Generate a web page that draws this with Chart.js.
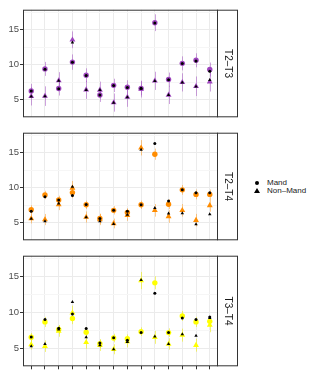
<!DOCTYPE html>
<html>
<head>
<meta charset="utf-8">
<script src="https://cdn.jsdelivr.net/npm/chart.js@4.4.0/dist/chart.umd.min.js"></script>
<style>
  body{margin:0;background:#fff;width:322px;height:376px;position:relative;overflow:hidden;font-family:"Liberation Sans",Arial,sans-serif}
  canvas{position:absolute;left:0}
  #legend{position:absolute;left:253px;top:179px;font-size:8px;color:#1a1a1a}
  .row{position:relative;height:8px;line-height:8px;padding-left:14px;color:#1a1a1a}
  .dot{position:absolute;left:2px;top:2px;width:4px;height:4px;border-radius:50%;background:#000}
  .tri{position:absolute;left:1px;top:1px;width:0;height:0;border-left:3px solid transparent;border-right:3px solid transparent;border-bottom:5px solid #000}
</style>
</head>
<body>
<canvas id="p1" width="240" height="121" style="top:3px"></canvas>
<canvas id="p2" width="240" height="121" style="top:126px"></canvas>
<canvas id="p3" width="240" height="124" style="top:249px"></canvas>
<div id="legend">
  <div class="row"><span class="dot"></span>Mand</div>
  <div class="row"><span class="tri"></span>Non–Mand</div>
</div>
<script>
const categories = [1,2,3,4,5,6,7,8,9,10,11,12,13,14]
const yTicks = [5, 10, 15]
const yMinor = [7.5, 12.5, 17.5]
const panels = ['T2–T3', 'T2–T4', 'T3–T4']

// T2–T3
const t23Mand = [6.24, 9.39, 6.58, 10.36, 8.47, 5.66, 7.03, 6.76, 6.6, 16.0, 7.86, 10.18, 10.62, 9.3]
const t23NonMand = [5.45, 5.49, 7.72, 13.55, 6.4, 6.37, 4.57, 5.36, 6.5, 7.68, 5.66, 7.46, 6.9, 7.55]
const t23MandErr = [1.0, 1.0, 1.0, 1.1, 1.0, 1.0, 0.95, 1.0, 1.0, 1.2, 1.0, 1.0, 1.0, 1.0]
const t23NonMandErr = [1.3, 1.4, 1.2, 1.2, 1.3, 1.2, 1.3, 1.4, 1.2, 1.3, 1.3, 1.3, 1.4, 1.4]
const t23MandObs = [6.22, 9.35, 6.55, 10.33, 8.45, 5.64, 7.0, 6.74, 6.62, 15.95, 7.84, 10.15, 10.5, 9.05]
const t23NonMandObs = [5.42, 5.47, 7.7, 13.15, 6.38, 6.35, 4.55, 5.34, 6.55, 7.66, 5.64, 7.45, 6.88, 7.8]

// T2–T4
const t24Mand = [6.84, 8.95, 8.24, 9.29, 7.54, 5.57, 6.75, 6.45, 7.54, 14.78, 7.63, 9.68, 9.03, 9.03]
const t24NonMand = [5.57, 5.43, 7.58, 9.95, 5.79, 5.43, 4.87, 6.05, 15.7, 6.75, 5.87, 6.75, 5.34, 7.45]
const t24MandErr = [0.65, 0.6, 0.6, 0.8, 0.6, 0.7, 0.6, 0.6, 0.6, 0.8, 0.7, 0.7, 0.7, 0.7]
const t24NonMandErr = [0.7, 0.8, 0.8, 1.0, 0.8, 0.8, 0.7, 0.8, 1.1, 0.9, 0.9, 0.9, 0.9, 0.9]
const t24MandObs = [6.62, 8.68, 8.24, 8.86, 7.6, 5.57, 6.75, 6.62, 7.54, 16.3, 8.07, 9.68, 9.25, 9.25]
const t24NonMandObs = [5.53, 5.17, 7.71, 10.13, 5.75, 5.2, 4.8, 6.1, 15.43, 7.1, 6.3, 6.32, 4.74, 6.18]

// T3–T4
const t34Mand = [6.5, 8.64, 7.6, 9.12, 7.2, 5.6, 6.4, 6.3, 7.28, 14.08, 7.15, 9.47, 8.64, 8.72]
const t34NonMand = [5.49, 5.26, 7.37, 9.9, 5.8, 5.4, 4.83, 5.9, 14.4, 6.49, 5.57, 6.8, 5.4, 8.2]
const t34MandErr = [0.6, 0.7, 0.6, 0.8, 0.7, 0.6, 0.6, 0.6, 0.6, 0.9, 0.6, 0.7, 0.7, 0.7]
const t34NonMandErr = [0.7, 0.8, 0.8, 1.0, 0.9, 0.8, 0.7, 0.8, 1.2, 0.9, 0.8, 0.9, 0.9, 1.0]
const t34MandObs = [6.55, 8.99, 7.76, 9.74, 7.72, 5.7, 6.45, 6.1, 7.15, 12.63, 7.15, 9.17, 8.99, 9.34]
const t34NonMandObs = [5.26, 5.57, 7.59, 11.4, 6.49, 5.4, 4.83, 5.85, 14.47, 6.62, 5.57, 6.93, 6.71, 9.2]

const pts = arr => arr.map((v, i) => ({x: categories[i], y: v}))

// vertical error bars behind the coloured points
const errorBars = {
  id: 'errorBars',
  beforeDatasetsDraw(chart){
    const {ctx, chartArea, scales} = chart
    ctx.save()
    ctx.beginPath()
    ctx.rect(chartArea.left, chartArea.top, chartArea.width, chartArea.height)
    ctx.clip()
    chart.data.datasets.forEach(ds => {
      if (!ds.err) return
      ctx.strokeStyle = ds.errColor
      ctx.lineWidth = 1
      ds.data.forEach((p, i) => {
        const x = Math.round(scales.x.getPixelForValue(p.x)) + 0.5
        ctx.beginPath()
        ctx.moveTo(x, scales.y.getPixelForValue(p.y - ds.err[i]))
        ctx.lineTo(x, scales.y.getPixelForValue(p.y + ds.err[i]))
        ctx.stroke()
      })
    })
    ctx.restore()
  }
}

// panel border + facet strip on the right
const frameStrip = {
  id: 'frameStrip',
  afterDraw(chart, args, opts){
    const {ctx, chartArea: a} = chart
    ctx.save()
    ctx.strokeStyle = '#333333'
    ctx.lineWidth = 1
    ctx.strokeRect(a.left + 0.5, a.top + 0.5, a.width - 1, a.height - 1)
    ctx.fillStyle = '#ffffff'
    ctx.fillRect(a.right, a.top, 20, a.height)
    ctx.strokeRect(a.right - 0.5, a.top + 0.5, 20, a.height - 1)
    ctx.translate(a.right + 10, (a.top + a.bottom) / 2)
    ctx.rotate(Math.PI / 2)
    ctx.fillStyle = '#1a1a1a'
    ctx.font = '10px "Liberation Sans", Arial, sans-serif'
    ctx.textAlign = 'center'
    ctx.textBaseline = 'middle'
    ctx.fillText(opts.label, 0, 0)
    ctx.restore()
  }
}

function makePanel(id, label, color, errColor, mand, nonMand, mandErr, nonMandErr, mandObs, nonMandObs, showX){
  new Chart(document.getElementById(id), {
    type: 'scatter',
    data: {
      datasets: [
        {label: 'Mand obs', data: pts(mandObs), pointStyle: 'circle', pointRadius: 1.5, backgroundColor: '#000', borderWidth: 0, order: 0},
        {label: 'Non-Mand obs', data: pts(nonMandObs), pointStyle: 'triangle', pointRadius: 2, backgroundColor: '#000', borderWidth: 0, order: 0},
        {label: 'Mand', data: pts(mand), err: mandErr, errColor: errColor, pointStyle: 'circle', pointRadius: 2.7, backgroundColor: color, borderWidth: 0, order: 1},
        {label: 'Non-Mand', data: pts(nonMand), err: nonMandErr, errColor: errColor, pointStyle: 'triangle', pointRadius: 3.4, backgroundColor: color, borderWidth: 0, order: 1}
      ]
    },
    options: {
      responsive: false,
      animation: false,
      devicePixelRatio: 1,
      layout: {padding: {top: 2, bottom: 2, left: 0, right: 22}},
      plugins: {legend: {display: false}, tooltip: {enabled: false}, frameStrip: {label: label}},
      elements: {point: {hoverRadius: 0}},
      scales: {
        x: {
          type: 'linear', min: 0.4, max: 14.6,
          afterBuildTicks: s => { s.ticks = categories.map(c => ({value: c})) },
          afterFit: s => { s.height = showX ? 3 : 0 },
          grid: {color: '#EBEBEB', lineWidth: 1, drawTicks: showX, tickLength: 3, tickColor: '#333333'},
          border: {display: false},
          ticks: {display: false}
        },
        y: {
          min: 2.46, max: 17.86,
          afterBuildTicks: s => { s.ticks = yTicks.concat(yMinor).map(v => ({value: v})) },
          afterFit: s => { s.width = 23 },
          grid: {
            color: c => yTicks.includes(c.tick.value) ? '#EBEBEB' : '#F6F6F6',
            lineWidth: 1, tickLength: 3,
            tickColor: c => yTicks.includes(c.tick.value) ? '#333333' : 'rgba(0,0,0,0)'
          },
          border: {display: false},
          ticks: {
            callback: v => yTicks.includes(v) ? String(v) : '',
            font: {size: 9.5, family: '"Liberation Sans", Arial, sans-serif'},
            color: '#4D4D4D', padding: 1
          }
        }
      }
    },
    plugins: [errorBars, frameStrip]
  })
}

makePanel('p1', panels[0], '#9E45BE', 'rgba(158,69,190,0.5)', t23Mand, t23NonMand, t23MandErr, t23NonMandErr, t23MandObs, t23NonMandObs, false)
makePanel('p2', panels[1], '#FF8C00', 'rgba(255,140,0,0.45)', t24Mand, t24NonMand, t24MandErr, t24NonMandErr, t24MandObs, t24NonMandObs, false)
makePanel('p3', panels[2], '#FFFF00', 'rgba(235,235,0,0.55)', t34Mand, t34NonMand, t34MandErr, t34NonMandErr, t34MandObs, t34NonMandObs, true)
</script>
</body>
</html>
